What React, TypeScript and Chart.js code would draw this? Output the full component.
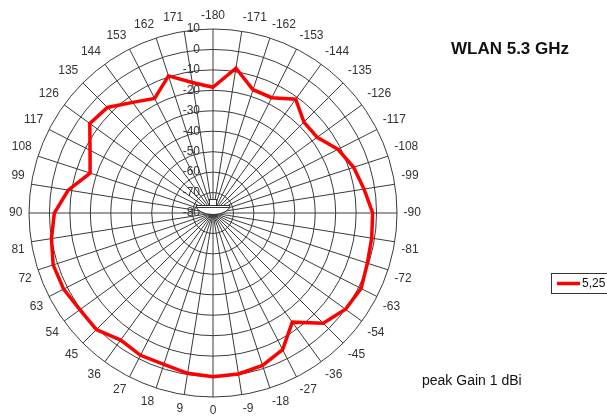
import React, { useEffect, useRef } from "react";
import { Chart, registerables } from "chart.js";

Chart.register(...registerables);

const FONT = "'Liberation Sans', Arial, sans-serif";

const angleLabels = [
  "-180", "-171", "-162", "-153", "-144", "-135", "-126", "-117", "-108", "-99",
  "-90", "-81", "-72", "-63", "-54", "-45", "-36", "-27", "-18", "-9",
  "0", "9", "18", "27", "36", "45", "54", "63", "72", "81",
  "90", "99", "108", "117", "126", "135", "144", "153", "162", "171",
];

const gainValues = [
  -18.5, -8.3, -16.6, -16.7, -11.2, -17.1, -17.0, -11.4, -7.7, -5.2,
  -1.9, -1.4, -0.6, 1.3, 0.1, -3.7, -14.0, -5.0, -1.6, -0.3,
  0.1, -0.6, -2.2, -1.9, -3.2, 0.7, 0.5, 2.0, 2.2, 0.0,
  -2.4, -8.3, -16.8, -12.5, -5.5, -7.0, -13.1, -17.1, -9.5, -15.4,
];

const radialTicks = [10, 0, -10, -20, -30, -40, -50, -60, -70, -80];

const seriesLabel = "5,25";
const titleText = "WLAN 5.3 GHz";
const noteText = "peak Gain 1 dBi";

const tickLabelPlugin = {
  id: "tickLabels",
  beforeDatasetsDraw(chart: any) {
    const ctx = chart.ctx;
    const r = chart.scales.r;
    const cx = r.xCenter;
    const cy = r.yCenter;
    ctx.save();
    ctx.font = `12px ${FONT}`;
    ctx.fillStyle = "#333";
    ctx.textAlign = "right";
    ctx.textBaseline = "middle";
    for (const v of radialTicks) {
      const d = r.getDistanceFromCenterForValue(v);
      ctx.fillText(String(v), cx - 13, cy - d);
    }
    // small centre marker
    ctx.fillStyle = "#fff";
    ctx.strokeStyle = "#333";
    ctx.lineWidth = 1;
    ctx.beginPath();
    ctx.moveTo(cx - 17, cy - 7.5);
    ctx.lineTo(cx + 17, cy - 7.5);
    ctx.ellipse(cx, cy - 7.5, 17, 9, 0, 0, Math.PI);
    ctx.closePath();
    ctx.fill();
    ctx.stroke();
    ctx.beginPath();
    ctx.moveTo(cx - 16, cy - 5.5);
    ctx.lineTo(cx + 16, cy - 5.5);
    ctx.stroke();
    ctx.fillRect(cx - 3.5, cy - 13.5, 7, 6);
    ctx.strokeRect(cx - 3.5, cy - 13.5, 7, 6);
    ctx.restore();
  },
};

const overlayPlugin = {
  id: "overlay",
  afterDraw(chart: any) {
    const ctx = chart.ctx;
    ctx.save();
    // title
    ctx.font = `bold 17px ${FONT}`;
    ctx.fillStyle = "#111";
    ctx.textAlign = "center";
    ctx.textBaseline = "middle";
    ctx.fillText(titleText, 510, 49);
    // note
    ctx.font = `14px ${FONT}`;
    ctx.textAlign = "left";
    ctx.textBaseline = "alphabetic";
    ctx.fillText(noteText, 422, 385);
    // legend
    const ds = chart.data.datasets[0];
    ctx.strokeStyle = "#333";
    ctx.lineWidth = 1;
    ctx.strokeRect(551.5, 273.5, 70, 20);
    ctx.strokeStyle = ds.borderColor;
    ctx.lineWidth = 3.5;
    ctx.beginPath();
    ctx.moveTo(557, 283.5);
    ctx.lineTo(580, 283.5);
    ctx.stroke();
    ctx.font = `12px ${FONT}`;
    ctx.fillStyle = "#111";
    ctx.textBaseline = "middle";
    ctx.fillText(ds.label, 582, 284);
    ctx.restore();
  },
};

export default function App() {
  const canvasRef = useRef<HTMLCanvasElement | null>(null);

  useEffect(() => {
    if (!canvasRef.current) return;
    Chart.defaults.font.family = FONT;
    const chart = new Chart(canvasRef.current, {
      type: "radar",
      data: {
        labels: angleLabels,
        datasets: [
          {
            label: seriesLabel,
            data: gainValues,
            borderColor: "#ff0000",
            backgroundColor: "#ff0000",
            borderWidth: 3.5,
            pointRadius: 0,
            pointHoverRadius: 0,
            fill: false,
            tension: 0,
          },
        ],
      },
      options: {
        responsive: false,
        animation: false,
        layout: { padding: { top: 9, bottom: 7, left: 0, right: 177 } },
        plugins: {
          legend: { display: false },
          title: { display: false },
          tooltip: { enabled: false },
        },
        scales: {
          r: {
            min: -80,
            max: 10,
            beginAtZero: false,
            startAngle: 0,
            ticks: { display: false, stepSize: 10 },
            grid: { color: "#3a3a3a", lineWidth: 1, circular: true },
            angleLines: { color: "#3a3a3a", lineWidth: 1 },
            pointLabels: {
              font: { size: 12, family: FONT },
              color: "#333",
              padding: 6.6,
            },
          },
        },
      } as any,
      plugins: [tickLabelPlugin, overlayPlugin],
    });
    return () => chart.destroy();
  }, []);

  return (
    <div
      style={{
        position: "fixed",
        left: 0,
        top: 0,
        width: 607,
        height: 416,
        overflow: "hidden",
        background: "#fff",
      }}
    >
      <canvas ref={canvasRef} width={607} height={426} style={{ display: "block" }} />
    </div>
  );
}
